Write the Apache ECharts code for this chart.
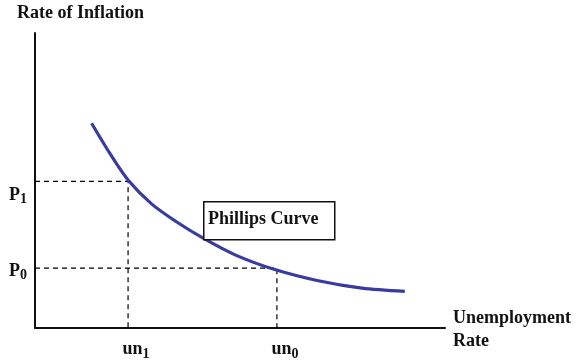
<!DOCTYPE html>
<html>
<head>
<meta charset="utf-8">
<script src="https://cdn.jsdelivr.net/npm/echarts@6/dist/echarts.min.js"></script>
<style>html,body{margin:0;padding:0;background:#fff}#c{width:582px;height:361px}</style>
</head>
<body>
<div id="c"></div>
<script>
// Phillips curve (arbitrary units, 0-10 on each axis)
const curveX = [1.38, 1.83, 2.28, 2.85, 3.44, 4.07, 4.88, 5.85, 6.91, 7.97, 9.02];
const curveY = [6.94, 5.91, 5.00, 4.20, 3.61, 3.07, 2.48, 1.98, 1.60, 1.35, 1.24];
const un1 = 2.27, p1 = 4.97;
const un0 = 5.90, p0 = 2.03;
const xTickLabels = ['un{s|1}', 'un{s|0}'];
const yTickLabels = ['P{s|1}', 'P{s|0}'];
// label anchor values (P1 label sits a little below its guide line)
const yLabelVals = [4.50, 1.93];

const FONT = '"Liberation Serif", "Times New Roman", serif';
const chart = echarts.init(document.getElementById('c'), null, {renderer: 'canvas'});
const dash = {color: '#000', width: 1.2, type: [5, 4]};

chart.setOption({
  animation: false,
  backgroundColor: '#fff',
  grid: {left: 35, top: 33, width: 410, height: 298, containLabel: false},
  xAxis: {
    type: 'value', min: 0, max: 10,
    axisLine: {show: true, onZero: false, lineStyle: {color: '#111', width: 2}},
    axisTick: {show: false}, splitLine: {show: false},
    axisLabel: {
      show: true, margin: 10,
      customValues: [un1, un0],
      formatter: function (v) { return v === un1 ? xTickLabels[0] : xTickLabels[1]; },
      fontFamily: FONT, fontWeight: 'bold', fontSize: 18, color: '#111',
      padding: [0, 0, 0, 16],
      rich: {s: {fontFamily: FONT, fontWeight: 'bold', fontSize: 14, color: '#111', padding: [9, 0, 0, 0]}}
    }
  },
  yAxis: {
    type: 'value', min: 0, max: 10,
    axisLine: {show: true, onZero: false, lineStyle: {color: '#111', width: 2}},
    axisTick: {show: false}, splitLine: {show: false},
    axisLabel: {
      show: true, margin: 8,
      customValues: yLabelVals,
      formatter: function (v) { return v === yLabelVals[0] ? yTickLabels[0] : yTickLabels[1]; },
      fontFamily: FONT, fontWeight: 'bold', fontSize: 18, color: '#111',
      rich: {
        s: {fontFamily: FONT, fontWeight: 'bold', fontSize: 14, color: '#111', padding: [9, 0, 0, 0]}
      }
    }
  },
  series: [
    {type: 'line', data: [[0, p1], [un1, p1], [un1, 0]], symbol: 'none', lineStyle: dash, z: 1},
    {type: 'line', data: [[0, p0], [un0, p0], [un0, 0]], symbol: 'none', lineStyle: dash, z: 1},
    {type: 'line', smooth: 0.3, symbol: 'none',
     data: curveX.map((x, i) => [x, curveY[i]]),
     lineStyle: {color: '#383c9e', width: 3.2}, z: 3}
  ],
  graphic: [
    {type: 'text', left: 17, top: 4,
     style: {text: 'Rate of Inflation', font: 'bold 18px ' + FONT, fill: '#111'}},
    {type: 'text', left: 453, top: 307,
     style: {text: 'Unemployment\nRate', font: 'bold 18px ' + FONT, fill: '#111', lineHeight: 23}},
    {type: 'rect', left: 203, top: 201, shape: {width: 131, height: 38},
     style: {fill: '#fff', stroke: '#111', lineWidth: 1.5}, z: 10},
    {type: 'text', left: 208, top: 210,
     style: {text: 'Phillips Curve', font: 'bold 18px ' + FONT, fill: '#111'}, z: 11}
  ]
});
</script>
</body>
</html>
